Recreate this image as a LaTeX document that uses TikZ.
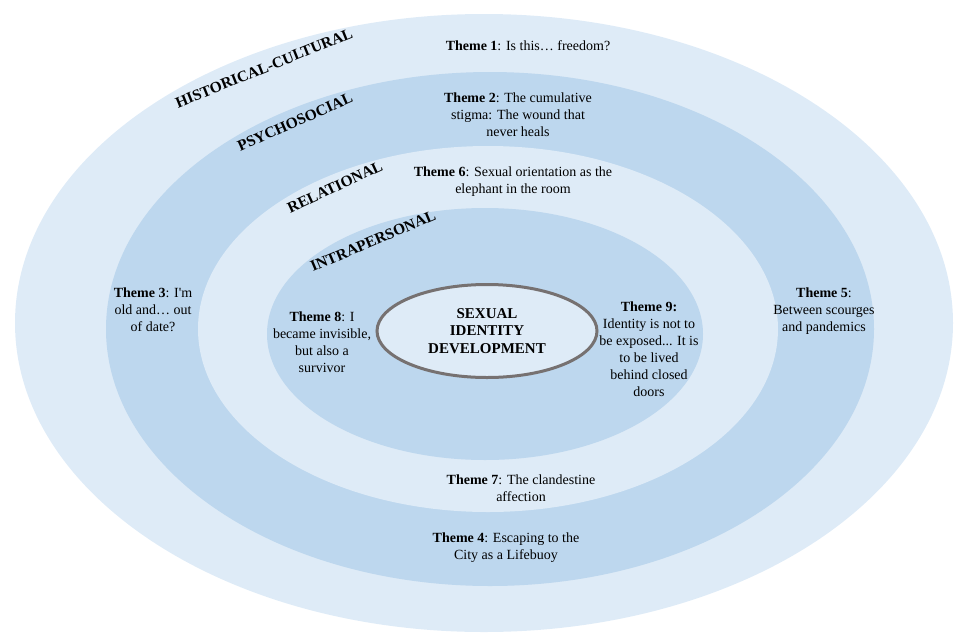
\documentclass[tikz,border=0pt]{standalone}
\usepackage{fontspec}
\setmainfont{Liberation Serif}[Ligatures=TeXOff]
\usetikzlibrary{shapes.geometric}
\definecolor{ringlight}{HTML}{DEEBF7}
\definecolor{ringdark}{HTML}{BDD7EE}
\definecolor{coreline}{HTML}{767171}
\begin{document}
\begin{tikzpicture}[x=1pt,y=-1pt,
  theme/.style={align=center,font=\fontsize{14}{17}\selectfont,inner sep=0pt},
  layer/.style={font=\bfseries\fontsize{15.5}{18}\selectfont,inner sep=0pt},
  corestyle/.style={ellipse,draw=coreline,line width=3pt,fill=ringlight,
    minimum width=220pt,minimum height=93pt,align=center,inner sep=0pt,
    font=\bfseries\fontsize{15}{17.5}\selectfont}]
\useasboundingbox (0,0) rectangle (954,633);
% rings
\fill[ringlight] (484,323) ellipse [x radius=469,y radius=309];
\fill[ringdark] (490,329) ellipse [x radius=384,y radius=257];
\fill[ringlight] (488,329) ellipse [x radius=290,y radius=183];
\fill[ringdark] (485,334) ellipse [x radius=218,y radius=126];
% core
\node[corestyle] (core) at (487,331) {SEXUAL\\IDENTITY\\DEVELOPMENT};
% layer labels
\node[layer,rotate=22] (hc) at (264,68) {HISTORICAL-CULTURAL};
\node[layer,rotate=24] (ps) at (295,122) {PSYCHOSOCIAL};
\node[layer,rotate=25] (rel) at (335,187) {RELATIONAL};
\node[layer,rotate=23] (intra) at (373,241) {INTRAPERSONAL};
% themes
\node[theme] (t1) at (528,46) {\textbf{Theme 1}: Is this… freedom?};
\node[theme] (t2) at (518,115) {\textbf{Theme 2}: The cumulative\\stigma: The wound that\\never heals};
\node[theme] (t6) at (513,182) {\textbf{Theme 6}: Sexual orientation as the\\elephant in the room};
\node[theme] (t3) at (153,310) {\textbf{Theme 3}: I'm\\old and… out\\of date?};
\node[theme] (t8) at (322,342) {\textbf{Theme 8}: I\\became invisible,\\but also a\\survivor};
\node[theme] (t9) at (649,349) {\textbf{Theme 9:}\\Identity is not to\\be exposed... It is\\to be lived\\behind closed\\doors};
\node[theme] (t5) at (824,311) {\textbf{Theme 5}:\\Between scourges\\and pandemics};
\node[theme] (t7) at (521,488) {\textbf{Theme 7}: The clandestine\\affection};
\node[theme] (t4) at (506,548) {\textbf{Theme 4}: Escaping to the\\City as a Lifebuoy};
\end{tikzpicture}
\end{document}
